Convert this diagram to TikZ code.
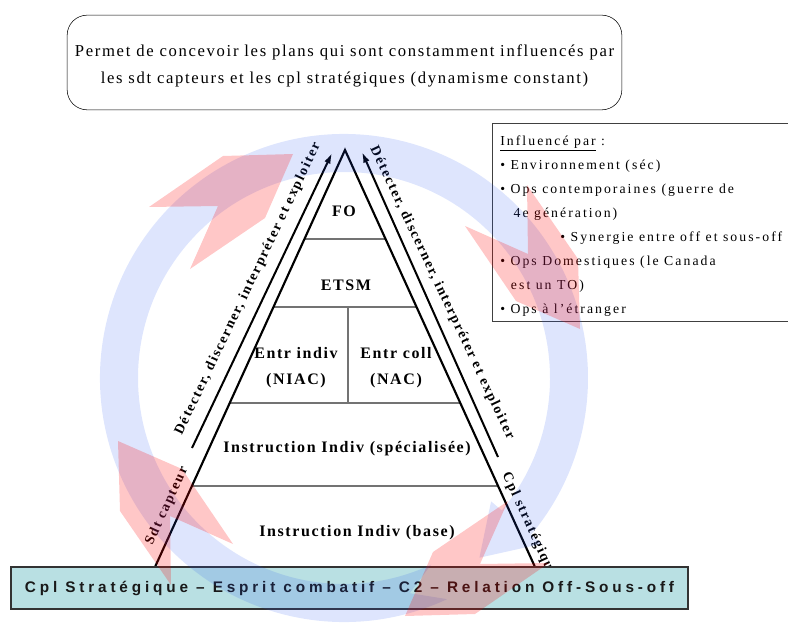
\documentclass[tikz,border=0pt]{standalone}
\usepackage{fontspec}
\setmainfont{Liberation Serif}
\newfontfamily\barfont[LetterSpace=25]{Liberation Sans}
\usetikzlibrary{arrows.meta,calc}

\definecolor{barteal}{RGB}{185,224,227}
\definecolor{ringblue}{RGB}{32,80,240}

\tikzset{
  level/.style={font=\fontsize{12}{19.5}\selectfont\bfseries\addfontfeatures{LetterSpace=10}, align=center, inner sep=0pt},
  sidetext/.style={font=\fontsize{10.5}{12}\selectfont\bfseries\addfontfeatures{LetterSpace=12}, inner sep=0pt},
  sep/.style={draw=black!55, line width=1.1pt},
  flow/.style={line width=1.5pt, -{Latex[length=8pt,width=5pt]}},
  shade/.style={fill=red, fill opacity=0.22},
}

\begin{document}
\begin{tikzpicture}[x=0.75pt,y=-0.75pt]
\clip (0,0) rectangle (788,624);

\node[draw, rounded corners=15pt, minimum width=416pt, minimum height=71pt] (purpose) at (344.5,62.5) {};
\node[font=\fontsize{12.5}{20.25}\selectfont\addfontfeatures{LetterSpace=10}, align=center, inner sep=0pt] (purposetext) at (344.5,66) {Permet de concevoir les plans qui sont constamment influencés par\\les sdt capteurs et les cpl stratégiques (dynamisme constant)};

\draw[black!75] (492,123) rectangle (800,321);
\node[anchor=north west, align=left, inner sep=0pt, font=\fontsize{10.3}{18}\selectfont\addfontfeatures{LetterSpace=15}] (infl) at (500,136) {\underline{Influencé par} :\\
• Environnement (séc)\\
• Ops contemporaines (guerre de\\
\hspace*{10pt}4e génération)\\
\hspace*{45pt}• Synergie entre off et sous-off\\
• Ops Domestiques (le Canada\\
\hspace*{8pt}est un TO)\\
• Ops à l’étranger};

\coordinate (apex) at (345,150);
\coordinate (bl) at (155,567);
\coordinate (br) at (535,567);
\foreach \t in {0.2134,0.3765,0.6067,0.8058}
  \draw[sep] ($(apex)!\t!(bl)$) -- ($(apex)!\t!(br)$);
\draw[sep] (348,307) -- (348,403);
\draw[line width=1.6pt] (bl) -- (apex) -- (br);

\node[level] (fo) at (344,211) {FO};
\node[level] (etsm) at (346,285) {ETSM};
\node[level] (indiv) at (296,368) {Entr indiv\\(NIAC)};
\node[level] (coll) at (396,368) {Entr coll\\(NAC)};
\node[level] (spec) at (347,449) {Instruction Indiv (spécialisée)};
\node[level] (basic) at (357,533) {Instruction Indiv (base)};

\coordinate (ls) at (192,448);
\coordinate (le) at (332,153);
\coordinate (rs) at (498,457);
\coordinate (re) at (362,152);
\draw[flow] (ls) -- (le);
\draw[flow] (rs) -- (re);

\node[sidetext, rotate=64.5] (leftflow) at (248,289) {Détecter, discerner, interpréter et exploiter};
\node[sidetext, rotate=65.5] (sdt) at (167,506) {Sdt capteur};
\node[sidetext, rotate=-64.7] (rightflow) at (442,293) {Détecter, discerner, interpréter et exploiter};
\node[sidetext, rotate=-65.5] (cpl) at (529,525) {Cpl stratégique};

\node[draw=black!80, line width=1pt, fill=barteal, minimum width=507.75pt, minimum height=31.5pt, inner sep=0pt, text=black!90, font=\barfont\fontsize{11.5}{13}\selectfont\bfseries] (bar) at (349.5,588) {Cpl Stratégique – Esprit combatif – C2 – Relation Off-Sous-off};

\coordinate (ctr) at (344,378);
\fill[ringblue, fill opacity=0.15] ($(ctr)+(65:244)$) arc[start angle=65, end angle=400, radius=244] -- ($(ctr)+(40:258)$) -- ($(ctr)+(53:225)$) -- ($(ctr)+(40:192)$) -- ($(ctr)+(40:206)$) arc[start angle=400, end angle=65, radius=206] -- ($(ctr)+(73:225)$) -- cycle;

\coordinate (rc) at (349,385);
\foreach \ang in {0,-90,-180,-270}
  \fill[shade, shift={(rc)}, rotate=\ang] (-200,-178) -- (-126,-229) -- (-56,-231) -- (-84,-167) -- (-159,-116) -- (-131,-179) -- cycle;

\end{tikzpicture}
\end{document}
